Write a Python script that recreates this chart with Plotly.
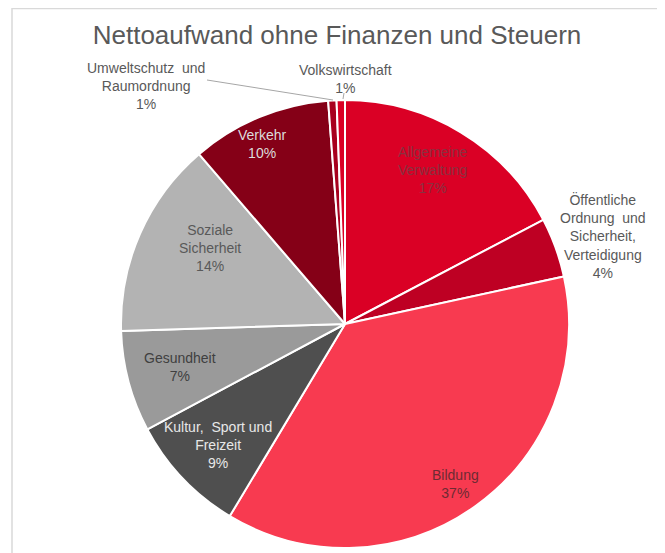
import plotly.graph_objects as go

# Data (clockwise from 12 o'clock)
categories = [
    "Allgemeine<br>Verwaltung",
    "Öffentliche<br>Ordnung  und<br>Sicherheit,<br>Verteidigung",
    "Bildung",
    "Kultur,  Sport und<br>Freizeit",
    "Gesundheit",
    "Soziale<br>Sicherheit",
    "Verkehr",
    "Umweltschutz  und<br>Raumordnung",
    "Volkswirtschaft",
]
values = [17.3, 4.3, 37.0, 8.6, 7.3, 14.2, 10.1, 0.6, 0.6]
pct_labels = ["17%", "4%", "37%", "9%", "7%", "14%", "10%", "1%", "1%"]

slice_colors = ["#DA0025", "#BE0023", "#F83A50", "#4F4F4F", "#9A9A9A",
                "#B3B3B3", "#850017", "#A8001E", "#DA0025"]
text_colors = ["#8a3040", "#595959", "#6e2a33", "#e8e8e8", "#404040",
               "#595959", "#dcdcdc", "#595959", "#595959"]
# label centres in page pixels (x, y from top)
label_px = [(432, 170), (603, 236), (455, 484), (218, 445), (180, 367),
            (210, 248), (262, 144), (146, 86), (345, 79)]

W, H = 665, 553
OFF = 8  # page offset of the figure div (body margin)
cx, cy, R = 345 - OFF, 324 - OFF, 224


def px2paper(x, y):
    return (x - OFF) / W, 1 - (y - OFF) / H


fig = go.Figure(go.Pie(
    labels=[c.replace("<br>", " ") for c in categories],
    values=values,
    sort=False,
    direction="clockwise",
    rotation=0,
    marker=dict(colors=slice_colors, line=dict(color="white", width=2)),
    textinfo="none",
    hoverinfo="label+percent",
    showlegend=False,
    domain=dict(x=[(cx - R) / W, (cx + R) / W],
                y=[1 - (cy + R) / H, 1 - (cy - R) / H]),
))

for cat, pct, col, (px, py) in zip(categories, pct_labels, text_colors, label_px):
    ax, ay = px2paper(px, py)
    fig.add_annotation(
        x=ax, y=ay, xref="paper", yref="paper",
        text=f"{cat}<br>{pct}", showarrow=False,
        font=dict(family="Liberation Sans, Arial, sans-serif", size=14, color=col),
        align="center", xanchor="center", yanchor="middle",
    )

# leader lines
for (xa, ya), (xb, yb) in [((207, 80), (333, 100)), ((344, 93), (343, 99))]:
    x0, y0 = px2paper(xa, ya)
    x1, y1 = px2paper(xb, yb)
    fig.add_shape(type="line", xref="paper", yref="paper",
                  x0=x0, y0=y0, x1=x1, y1=y1,
                  line=dict(color="#A6A6A6", width=1))

# chart frame
fx0, fy0 = px2paper(12, 8.5)
fx1, _ = px2paper(659, 8.5)
fig.add_shape(type="rect", xref="paper", yref="paper",
              x0=fx0, y0=-0.05, x1=fx1, y1=fy0,
              line=dict(color="#D9D9D9", width=1.5), fillcolor="rgba(0,0,0,0)")

tx, ty = px2paper(337, 35)
fig.update_layout(
    width=W, height=H,
    margin=dict(l=0, r=0, t=0, b=0),
    paper_bgcolor="white",
    plot_bgcolor="white",
    title=dict(text="Nettoaufwand ohne Finanzen und Steuern",
               x=tx, xanchor="center", y=ty, yanchor="middle",
               font=dict(family="Liberation Sans, Arial, sans-serif", size=26, color="#595959")),
)

fig.write_html("out.html")
